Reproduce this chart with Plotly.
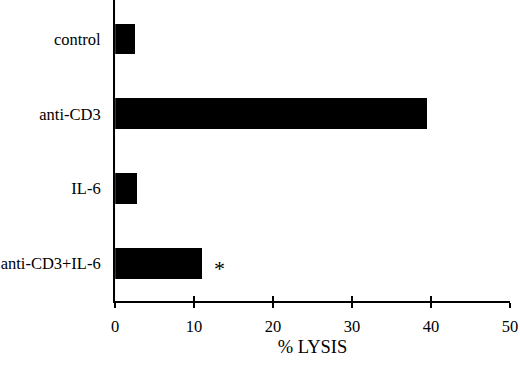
import plotly.graph_objects as go

categories = ["control", "anti-CD3", "IL-6", "anti-CD3+IL-6"]
lysis = [2.5, 39.5, 2.8, 11.0]
x_ticks = [0, 10, 20, 30, 40, 50]
x_title = "% LYSIS"
marker_text = "*"

font = dict(family="Liberation Serif, Times New Roman, serif", size=16.5, color="black")
title_font = dict(family=font["family"], size=18.5, color="black")

fig = go.Figure()
fig.add_trace(go.Bar(
    y=categories, x=lysis, orientation="h",
    marker=dict(color="black", line=dict(width=0)),
    width=0.41, showlegend=False,
))
# invisible trace for the second x-axis (ticks inside, so ticks cross axis)
fig.add_trace(go.Bar(y=categories, x=[0]*4, orientation="h", xaxis="x2",
                     showlegend=False, hoverinfo="skip", marker=dict(color="rgba(0,0,0,0)")))

fig.add_annotation(x=lysis[3], y=categories[3], text=marker_text, showarrow=False,
                   xanchor="left", xshift=10, yshift=-5,
                   font=dict(family=font["family"], size=22, color="black"))

fig.update_layout(
    width=520, height=365,
    margin=dict(l=115, r=10, t=0, b=64, autoexpand=False),
    paper_bgcolor="white", plot_bgcolor="white",
    font=font,
    bargap=0,
    xaxis=dict(range=[0, 50], tickvals=x_ticks, ticks="outside", ticklen=5, tickwidth=1.5,
               tickcolor="black", showline=True, linecolor="black", linewidth=2,
               showgrid=False, zeroline=False, ticklabelstandoff=4, automargin=False,
               title=dict(text=x_title, standoff=5, font=title_font), tickfont=font),
    xaxis2=dict(range=[0, 50], tickvals=x_ticks, ticks="inside", ticklen=5, tickwidth=1.5,
                tickcolor="black", overlaying="x", side="bottom", showticklabels=False,
                showgrid=False, zeroline=False, showline=False, automargin=False),
    yaxis=dict(range=[3.5, -0.52], showline=True, linecolor="black", linewidth=2,
               ticks="", showgrid=False, zeroline=False, ticklabelstandoff=9,
               automargin=False, tickfont=font),
)

fig.write_html("out.html", config={"displayModeBar": False},
               post_script="document.body.style.margin='0';document.body.style.padding='0';"
                           "document.documentElement.style.overflow='hidden';")
